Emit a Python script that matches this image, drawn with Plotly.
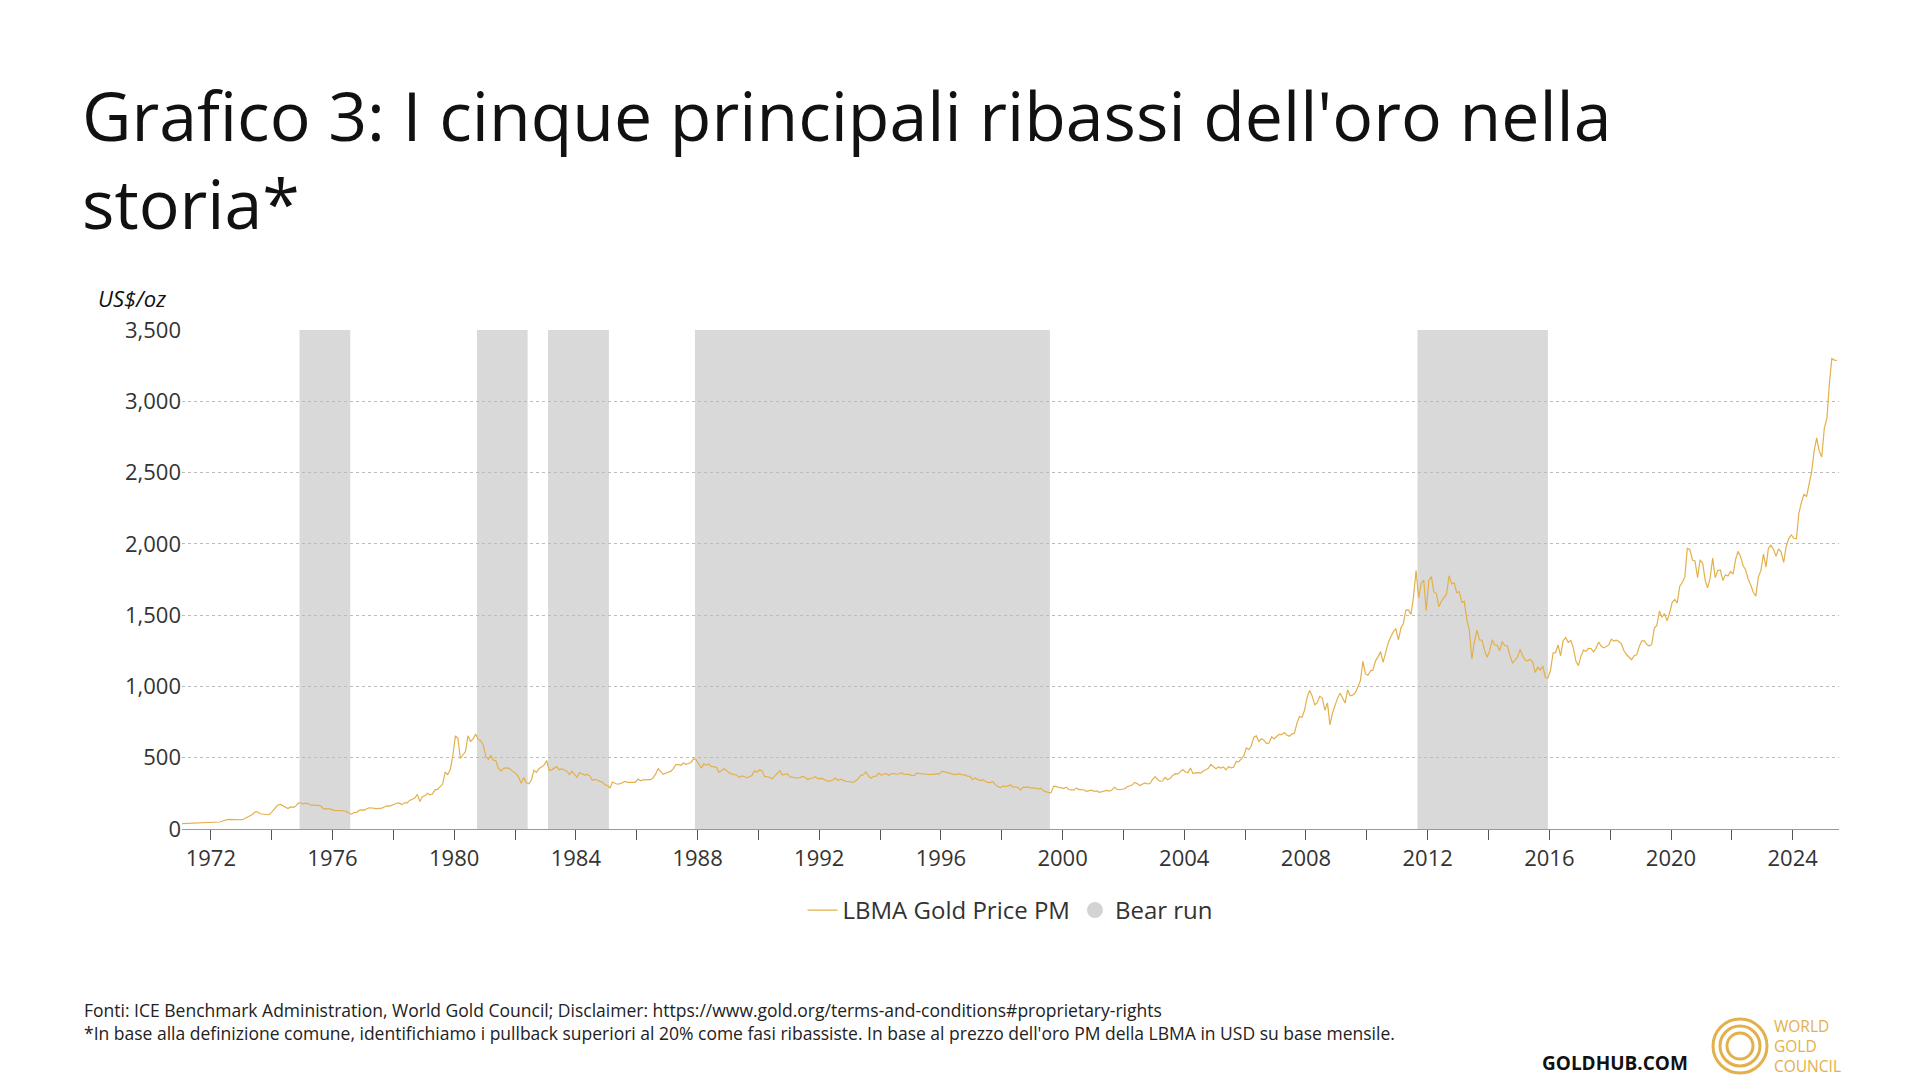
import plotly.graph_objects as go

start_year = 1971
prices_by_year = [
[37.9,38.7,38.9,39.0,40.5,40.1,41.0,42.7,42.0,42.5,42.9,43.5],
[45.8,48.3,48.3,49.0,54.6,62.1,65.7,67.0,65.5,64.9,62.9,64.9],
[65.1,74.2,84.4,90.5,102.0,120.1,120.0,106.8,103.0,100.1,100.0,106.7],
[129.0,150.2,168.4,172.2,163.3,154.1,143.0,154.6,151.8,158.8,181.7,183.8],
[175.8,181.8,178.2,167.0,167.0,164.2,165.2,161.0,141.3,142.9,141.7,139.3],
[131.1,131.4,128.9,128.4,126.1,123.6,112.5,104.0,114.8,116.0,130.3,134.5],
[132.3,142.8,148.9,147.3,143.0,143.0,145.0,146.4,154.1,161.5,160.1,164.9],
[173.2,182.0,181.6,170.9,184.0,183.0,200.3,208.1,217.1,242.6,193.4,226.0],
[233.7,251.3,240.1,245.3,274.6,277.5,296.5,315.1,397.3,382.0,415.7,512.0],
[653.0,637.0,494.5,515.5,543.0,653.5,614.3,631.3,666.8,629.0,619.8,589.8],
[506.5,489.0,513.8,482.8,479.3,426.0,406.0,425.0,428.8,427.0,414.5,397.5],
[387.0,362.6,320.0,361.3,325.3,317.5,342.9,411.5,397.0,423.3,436.0,448.0],
[480.5,410.3,414.8,429.3,437.5,416.0,422.0,414.3,405.0,382.0,405.0,382.4],
[363.7,394.3,388.5,375.8,384.3,373.1,342.4,348.3,343.8,333.5,329.0,309.0],
[306.7,287.8,329.8,321.4,314.0,317.8,327.5,333.3,326.5,325.1,325.3,326.8],
[350.5,338.2,344.0,345.8,343.2,345.8,357.5,384.7,423.2,401.0,383.5,390.9],
[400.5,405.9,421.3,451.0,451.0,447.3,462.5,453.4,459.5,468.8,492.5,486.5],
[458.0,426.2,457.0,449.0,455.5,436.6,436.8,431.0,397.0,412.4,422.6,410.2],
[394.0,387.0,383.2,377.6,361.4,373.0,368.3,359.8,366.5,375.3,408.2,398.6],
[415.1,407.7,368.5,367.8,363.1,352.2,372.3,387.8,408.4,379.5,384.9,386.2],
[366.0,362.7,355.7,357.7,360.4,368.4,362.9,347.4,354.9,357.5,366.3,353.2],
[354.5,353.3,341.7,336.4,337.5,343.4,357.9,340.0,349.0,339.3,334.2,333.3],
[330.5,327.6,337.8,354.3,377.5,378.5,401.8,371.6,355.5,369.6,370.9,391.8],
[377.9,381.6,389.2,376.5,387.6,388.3,384.0,385.8,394.9,383.9,383.1,383.3],
[374.9,376.4,392.0,389.8,384.3,387.1,383.4,382.4,384.0,383.0,387.8,387.0],
[405.6,400.7,396.4,393.3,390.6,382.0,385.3,386.5,379.0,379.5,371.3,369.3],
[345.5,358.6,348.2,340.2,345.6,334.6,326.4,325.4,332.1,311.4,296.8,290.2],
[301.9,297.4,301.0,310.7,293.6,296.3,288.9,273.4,293.9,292.3,294.7,287.8],
[287.1,287.3,279.5,286.6,268.6,261.3,255.6,254.8,299.0,299.1,291.4,290.3],
[283.3,293.7,276.8,275.1,272.3,288.2,276.8,277.0,273.7,264.5,269.1,272.7],
[264.5,266.7,257.7,263.2,267.5,270.6,265.9,273.0,293.1,278.8,275.5,276.5],
[282.3,296.9,301.4,308.2,326.6,318.5,304.7,312.8,323.7,316.9,319.1,347.2],
[367.5,347.5,334.9,336.8,361.4,346.0,354.8,375.6,388.0,386.3,398.4,416.3],
[399.8,395.9,427.5,388.5,393.3,395.8,391.4,407.3,415.7,425.6,453.4,435.6],
[422.2,435.5,427.5,435.7,414.5,437.1,429.0,433.3,473.3,470.8,495.7,513.0],
[568.8,556.0,582.0,644.0,653.0,613.5,632.5,623.5,599.3,603.8,646.7,632.0],
[650.5,664.2,661.8,677.0,659.1,650.5,665.5,672.0,743.0,789.5,783.5,833.8],
[923.3,971.5,933.5,871.0,885.8,930.3,918.0,833.0,884.5,730.8,814.5,869.8],
[919.5,952.0,916.5,883.3,975.5,934.5,939.0,955.5,995.8,1040.0,1175.8,1087.5],
[1078.5,1109.5,1115.5,1179.3,1207.5,1244.0,1169.0,1246.0,1307.0,1346.8,1383.5,1405.5],
[1327.0,1411.0,1439.0,1535.5,1536.5,1505.5,1628.5,1813.5,1620.0,1722.0,1746.0,1531.0],
[1744.0,1770.0,1662.5,1651.3,1558.0,1598.5,1622.0,1648.5,1776.0,1719.0,1726.0,1657.5],
[1664.8,1588.5,1598.3,1469.0,1394.5,1192.0,1314.5,1394.8,1326.5,1324.0,1253.0,1204.5],
[1251.0,1326.5,1291.8,1288.5,1250.5,1315.0,1285.3,1285.8,1216.5,1164.3,1182.8,1206.0],
[1260.3,1214.0,1187.0,1180.3,1190.6,1171.0,1098.4,1135.0,1114.0,1142.4,1061.5,1060.3],
[1111.8,1234.9,1237.0,1290.5,1214.7,1320.8,1342.0,1309.3,1322.5,1272.0,1178.1,1145.9],
[1212.8,1255.6,1244.9,1266.5,1266.2,1242.3,1267.6,1311.8,1283.1,1270.2,1280.2,1291.0],
[1331.3,1317.9,1323.9,1315.1,1298.5,1250.5,1223.7,1201.5,1187.3,1214.9,1221.5,1279.0],
[1319.8,1319.2,1295.4,1283.3,1295.7,1409.0,1427.6,1528.4,1485.3,1510.9,1460.1,1514.8],
[1589.9,1609.9,1583.4,1702.8,1728.7,1768.1,1970.9,1957.4,1886.9,1879.9,1762.6,1887.6],
[1863.3,1743.3,1691.0,1760.2,1899.7,1763.0,1812.3,1816.7,1742.8,1783.4,1774.5,1805.9],
[1788.2,1890.6,1947.3,1911.1,1848.4,1817.0,1753.4,1711.0,1660.6,1633.6,1768.6,1812.4],
[1928.4,1836.7,1969.0,1990.0,1962.7,1912.3,1965.1,1942.2,1870.1,1983.6,2036.6,2062.4],
[2039.5,2035.0,2214.4,2291.3,2347.7,2330.9,2426.2,2502.7,2653.9,2744.0,2650.4,2609.1],
[2812.5,2880.0,3115.0,3300.0,3289.0,3287.0],
]

bear_starts = ["1974-12-01", "1980-10-01", "1983-02-01", "1987-12-01", "2011-09-01"]
bear_ends = ["1976-08-01", "1982-06-01", "1985-02-01", "1999-08-01", "2015-12-15"]

title_text = "Grafico 3: I cinque principali ribassi dell'oro nella<br>storia*"

dates, prices = [], []
for i, row in enumerate(prices_by_year):
    for m, v in enumerate(row):
        dates.append(f"{start_year + i}-{m + 1:02d}-15")
        prices.append(v)

GOLD = "#E3B04B"
FONT = "Open Sans"
L, R, T, B = 182, 81, 330, 251
PW, PH = 1920 - L - R, 1080 - T - B

def px(x):
    return (x - L) / PW

def py(y):
    return (1080 - B - y) / PH

fig = go.Figure()
for s, e in zip(bear_starts, bear_ends):
    fig.add_vrect(x0=s, x1=e, fillcolor="#D9D9D9", opacity=1, line_width=0, layer="below")

fig.add_trace(go.Scatter(x=dates, y=prices, mode="lines", name="LBMA Gold Price PM",
                         line=dict(color=GOLD, width=1.2)))
fig.add_trace(go.Scatter(x=[None], y=[None], mode="markers", name="Bear run",
                         marker=dict(color="#D3D3D3", size=24, symbol="circle")))

fig.update_layout(
    width=1920, height=1080, plot_bgcolor="white", paper_bgcolor="white",
    font=dict(family=FONT, color="#333333", size=22),
    margin=dict(l=L, r=R, t=T, b=B),
    legend=dict(orientation="h", x=0.5, xanchor="center", y=py(888), yanchor="top",
                font=dict(size=24, color="#333333"), itemwidth=30),
    showlegend=True,
)
fig.add_annotation(text=title_text, xref="paper", yref="paper", x=px(80), y=py(158),
                   xanchor="left", yanchor="middle", align="left", showarrow=False,
                   font=dict(family=FONT, size=68, color="#111111"))

fig.update_xaxes(type="date", range=["1971-01-20", "2025-07-10"], dtick="M48", tick0="1972-01-01",
                 tickformat="%Y", ticks="outside", ticklen=10, tickcolor="#555555",
                 showline=True, linecolor="#999999", showgrid=False,
                 minor=dict(dtick="M24", tick0="1972-01-01", ticks="outside", ticklen=10, tickcolor="#555555"),
                 tickfont=dict(size=22))
fig.update_yaxes(range=[0, 3500], dtick=500, tickformat=",", showgrid=True,
                 gridcolor="#BBBBBB", griddash="dot", zeroline=False, tickfont=dict(size=22),
                 ticks="", showline=False)

fig.add_annotation(text="<i>US$/oz</i>", xref="paper", yref="paper", x=px(96), y=py(298),
                   xanchor="left", yanchor="middle", showarrow=False, font=dict(size=22, color="#111111"))
fig.add_annotation(text="Fonti: ICE Benchmark Administration, World Gold Council; Disclaimer: https://www.gold.org/terms-and-conditions#proprietary-rights<br>*In base alla definizione comune, identifichiamo i pullback superiori al 20% come fasi ribassiste. In base al prezzo dell'oro PM della LBMA in USD su base mensile.",
                   xref="paper", yref="paper", x=px(82), y=py(996), xanchor="left", yanchor="top",
                   align="left", showarrow=False, font=dict(size=17.5, color="#222222"))
fig.add_annotation(text="<b>GOLDHUB.COM</b>", xref="paper", yref="paper", x=px(1690), y=py(1063),
                   xanchor="right", yanchor="middle", showarrow=False, font=dict(size=19, color="#111111"))
fig.add_annotation(text="WORLD<br>GOLD<br>COUNCIL", xref="paper", yref="paper", x=px(1772), y=py(1046),
                   xanchor="left", yanchor="middle", align="left", showarrow=False,
                   font=dict(size=15.5, color=GOLD))
cx, cy = 1740, 1046
for r, w in [(27, 3), (20, 3), (13, 3)]:
    fig.add_shape(type="circle", xref="paper", yref="paper",
                  x0=px(cx - r), x1=px(cx + r), y0=py(cy + r), y1=py(cy - r),
                  line=dict(color=GOLD, width=w))

fig.write_html("out.html", config={"displayModeBar": False},
               post_script="document.body.style.margin='0';document.body.style.overflow='hidden';")
